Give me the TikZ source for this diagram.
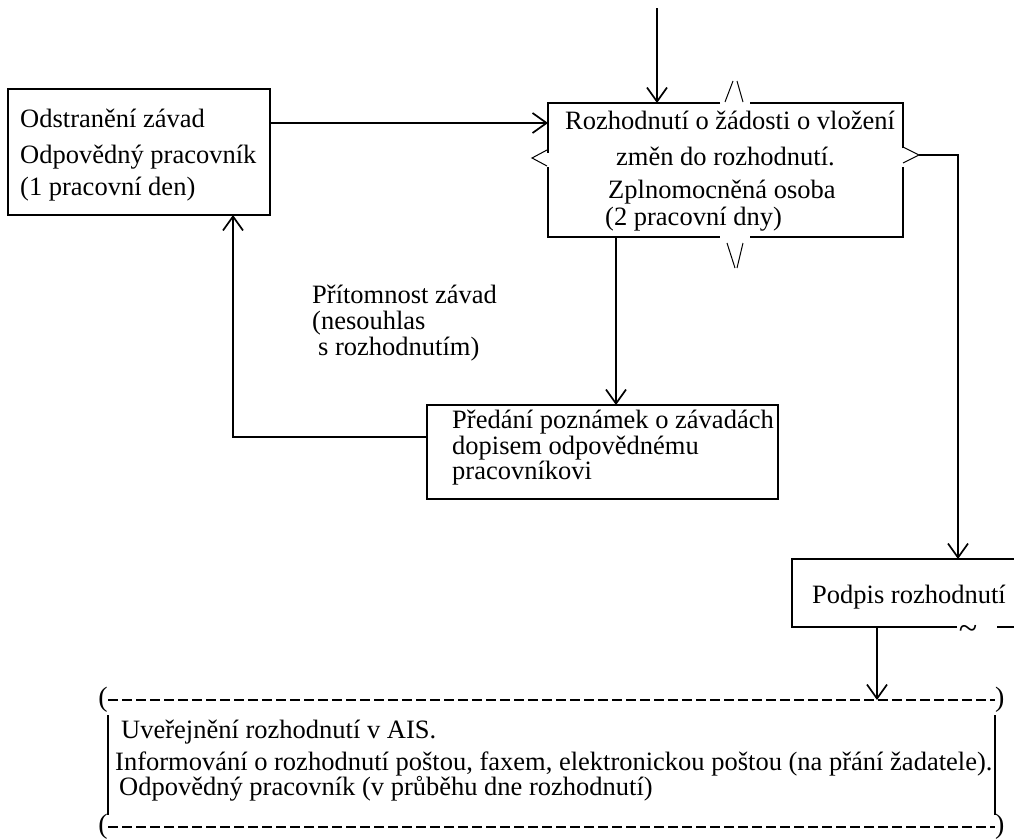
\documentclass[tikz,border=0pt]{standalone}
\usepackage{fontspec}
\setmainfont{Liberation Serif}
\usetikzlibrary{arrows.meta}
\begin{document}
\begin{tikzpicture}[x=1pt,y=-1pt,
  ln/.style={line width=1.7pt},
  thin/.style={line width=1pt},
  arr/.style={ln, -{Straight Barb[length=14pt,width=20pt,line width=1.7pt]}},
  area/.style={inner sep=0pt, outer sep=0pt},
  txt/.style={anchor=base west, inner sep=0pt, font=\fontsize{26.5}{30}\selectfont},
  dsh/.style={line width=1.4pt, dash pattern=on 10pt off 4pt},
  par/.style={inner sep=0pt, font=\fontsize{28}{30}\selectfont},
]
\useasboundingbox (0,0) rectangle (1014,838);

% --- boxes
\node[area, draw, ln, minimum width=262pt, minimum height=126pt] (L) at (139,152) {};
\node[area, minimum width=355pt, minimum height=134pt] (C) at (725.5,170) {};
\node[area, draw, ln, minimum width=351pt, minimum height=94pt] (P) at (602.5,452) {};
\node[area, minimum width=228pt, minimum height=68pt] (S) at (906,593) {};
\node[area, minimum width=887pt, minimum height=127pt] (B) at (551.5,763.5) {};

% central box border with gaps and marks
\draw[ln] (720,103) -| (548,153);
\draw[ln] (548,167) |- (720,237);
\draw[ln] (750,237) -| (903,167);
\draw[ln] (903,148) |- (750,103);
\draw[thin] (725,102) -- (733,81) (737,81) -- (743,102);
\draw[thin] (727,243) -- (735,268) (737,268) -- (743,243);
\draw[thin] (547,150) -- (532,158) -- (547,166);
\draw[thin] (903,147) -- (919,155) -- (903,163);
\coordinate (gt) at (919,155);

% Podpis box (partly cut at the right)
\draw[ln] (957,627) -| (S.north west) -- (S.north east);
\draw[ln] (997,627) -- (1014,627);
\node[inner sep=0pt, font=\fontsize{34}{36}\selectfont] (tl) at (968,632) {\char`\~};

% bottom box
\draw[dsh] (B.north west) -- (B.north east);
\draw[dsh] (B.south west) -- (B.south east);
\draw[ln] ([yshift=-15pt]B.north east) -- ([yshift=12pt]B.south east);
\draw[ln] ([yshift=-15pt]B.north west) -- ([yshift=12pt]B.south west);
\node[par, anchor=west] (rp1) at (B.north east) {)};
\node[par, anchor=west] (rp2) at (B.south east) {)};
\node[par, anchor=east] (lp1) at (B.north west) {(};
\node[par, anchor=east] (lp2) at (B.south west) {(};

% --- texts
\node[txt] (l1) at (20,127) {Odstranění závad};
\node[txt] (l2) at (20,163) {Odpovědný pracovník};
\node[txt] (l3) at (20,195) {(1 pracovní den)};

\node[txt] (c1) at (565,129) {Rozhodnutí o žádosti o vložení};
\node[txt] (c2) at (616,165) {změn do rozhodnutí.};
\node[txt] (c3) at (608,198) {Zplnomocněná osoba};
\node[txt] (c4) at (605,225) {(2 pracovní dny)};

\node[txt] (p1) at (452,428) {Předání poznámek o závadách};
\node[txt] (p2) at (452,454) {dopisem odpovědnému};
\node[txt] (p3) at (452,479) {pracovníkovi};

\node[txt] (q1) at (312,303) {Přítomnost závad};
\node[txt] (q2) at (312,329) {(nesouhlas};
\node[txt] (q3) at (318,355) {s rozhodnutím)};

\node[txt] (s1) at (812,603) {Podpis rozhodnutí};

\node[txt] (b1) at (121,738) {Uveřejnění rozhodnutí v AIS.};
\node[txt] (b2) at (115,770) {Informování o rozhodnutí poštou, faxem, elektronickou poštou (na přání žadatele).};
\node[txt] (b3) at (119,795) {Odpovědný pracovník (v průběhu dne rozhodnutí)};

% --- connectors
\coordinate (top) at (657,8);
\draw[arr] (top) -- (top |- C.north);
\draw[arr] ([yshift=29pt]L.east) -- ([yshift=29pt]L.east -| C.west);
\draw[arr] ([xshift=-109.5pt]C.south) -- ([xshift=-109.5pt]C.south |- P.north);
\draw[arr] ([yshift=15pt]P.west) -| ([xshift=94pt]L.south);
\draw[arr] (gt) -| ([xshift=52pt]S.north);
\draw[arr] ([xshift=-29pt]S.south) -- ([xshift=-29pt]S.south |- B.north);
\end{tikzpicture}
\end{document}
